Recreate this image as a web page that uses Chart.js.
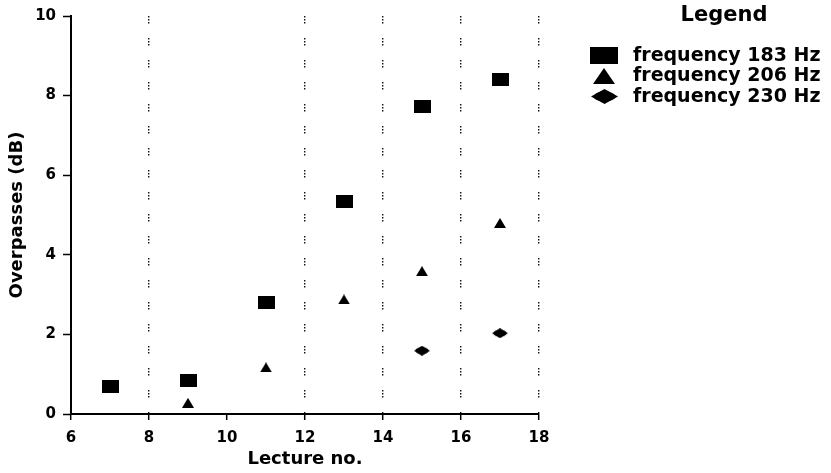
<!DOCTYPE html>
<html>
<head>
<meta charset="utf-8">
<title>Overpasses per lecture</title>
<script src="https://cdn.jsdelivr.net/npm/chart.js@4.4.1/dist/chart.umd.min.js"></script>
<style>
    html, body { margin: 0; padding: 0; background: #fff; }
    #wrap { width: 831px; height: 473px; }
</style>
</head>
<body>
<div id="wrap"><canvas id="overpassChart"></canvas></div>
<script>
// measured overpasses per lecture, one pair of arrays per frequency
const lectures183 = [7, 9, 11, 13, 15, 17];
const overpass183 = [0.7, 0.85, 2.8, 5.33, 7.73, 8.4];
const lectures206 = [9, 11, 13, 15, 17];
const overpass206 = [0.28, 1.17, 2.88, 3.59, 4.8];
const lectures230 = [15, 17];
const overpass230 = [1.59, 2.03];
const seriesLabels = ['frequency 183 Hz', 'frequency 206 Hz', 'frequency 230 Hz'];

const xTicks = [6, 8, 10, 12, 14, 16, 18];
const yTicks = [0, 2, 4, 6, 8, 10];
const dottedAt = [8, 12, 14, 16, 18];   // lectures that get a dotted guide line

// small offscreen canvases used as point styles
function marker(w, h, draw) {
    const c = document.createElement('canvas');
    c.width = w;
    c.height = h;
    const ctx = c.getContext('2d');
    ctx.fillStyle = '#000';
    draw(ctx, w, h);
    return c;
}
const block = (ctx, w, h) => ctx.fillRect(0, 0, w, h);
const triangle = (ctx, w, h) => {
    ctx.beginPath();
    ctx.moveTo(w / 2, 0);
    ctx.lineTo(w, h);
    ctx.lineTo(0, h);
    ctx.closePath();
    ctx.fill();
};
const lozenge = (ctx, w, h) => {
    ctx.beginPath();
    ctx.moveTo(0, h / 2);
    ctx.lineTo(w / 2, 0);
    ctx.lineTo(w, h / 2);
    ctx.lineTo(w / 2, h);
    ctx.closePath();
    ctx.fill();
    ctx.beginPath();
    ctx.ellipse(w / 2, h / 2, w * 0.4, h * 0.34, 0, 0, Math.PI * 2);
    ctx.fill();
};

const pointMarks = [marker(17, 13, block), marker(12, 10, triangle), marker(16, 10, lozenge)];
const legendMarks = [marker(28, 17, block), marker(22, 16, triangle), marker(27, 15, lozenge)];

function toPoints(xs, ys) {
    return xs.map((x, i) => ({ x: x, y: ys[i] }));
}

// legend box to the right of the plot
const sideLegend = {
    id: 'sideLegend',
    afterDraw(chart) {
        const ctx = chart.ctx;
        ctx.save();
        ctx.fillStyle = '#000';
        ctx.textBaseline = 'middle';
        ctx.textAlign = 'center';
        ctx.font = 'bold 21px "DejaVu Sans"';
        ctx.fillText('Legend', 724, 16);
        ctx.textAlign = 'left';
        ctx.font = 'bold 19px "DejaVu Sans"';
        chart.data.datasets.forEach((ds, i) => {
            const y = 55 + i * 20.5;
            const m = legendMarks[i];
            ctx.drawImage(m, Math.round(604 - m.width / 2), Math.round(y - m.height / 2));
            ctx.fillText(ds.label, 633, y + 1);
        });
        ctx.restore();
    }
};

window.onload = function () {
    Chart.defaults.font.family = '"DejaVu Sans", sans-serif';
    Chart.defaults.font.weight = 'bold';
    Chart.defaults.color = '#000';

    const ctx = document.getElementById('overpassChart');
    const data = {
        datasets: [
            { label: seriesLabels[0], data: toPoints(lectures183, overpass183), pointStyle: pointMarks[0] },
            { label: seriesLabels[1], data: toPoints(lectures206, overpass206), pointStyle: pointMarks[1] },
            { label: seriesLabels[2], data: toPoints(lectures230, overpass230), pointStyle: pointMarks[2] }
        ]
    };
    const config = {
        type: 'scatter',
        data: data,
        options: {
            responsive: true,
            maintainAspectRatio: false,
            animation: false,
            layout: { padding: { top: 15, right: 292, bottom: 0, left: 0 } },
            elements: { point: { radius: 6, hoverRadius: 6 } },
            plugins: {
                legend: { display: false },
                tooltip: { enabled: false }
            },
            scales: {
                x: {
                    type: 'linear',
                    min: 6,
                    max: 18,
                    afterBuildTicks: (s) => { s.ticks = xTicks.map(v => ({ value: v })); },
                    afterFit: (s) => { s.height = 59; },
                    grid: {
                        color: (c) => (c.tick && dottedAt.includes(c.tick.value)) ? '#111' : 'rgba(0,0,0,0)',
                        lineWidth: 1.4,
                        tickLength: 6,
                        tickColor: '#000',
                        tickWidth: 1.5
                    },
                    border: { color: '#000', width: 2, dash: [1.5, 1.5, 1.5, 1.5, 1.5, 14.5] },
                    ticks: { color: '#000', padding: 9, font: { size: 15, weight: 'bold' } },
                    title: {
                        display: true,
                        text: 'Lecture no.',
                        color: '#000',
                        font: { size: 18, weight: 'bold' },
                        padding: { top: 0, bottom: 3 }
                    }
                },
                y: {
                    min: 0,
                    max: 10,
                    afterBuildTicks: (s) => { s.ticks = yTicks.map(v => ({ value: v })); },
                    afterFit: (s) => { s.width = 71; },
                    grid: {
                        drawOnChartArea: false,
                        tickLength: 8,
                        tickColor: '#000',
                        tickWidth: 1.5
                    },
                    border: { color: '#000', width: 2 },
                    ticks: { color: '#000', padding: 7, font: { size: 15, weight: 'bold' } },
                    title: {
                        display: true,
                        text: 'Overpasses (dB)',
                        color: '#000',
                        font: { size: 18, weight: 'bold' },
                        padding: { top: 7, bottom: 0 }
                    }
                }
            }
        },
        plugins: [sideLegend]
    };
    new Chart(ctx, config);
};
</script>
</body>
</html>
